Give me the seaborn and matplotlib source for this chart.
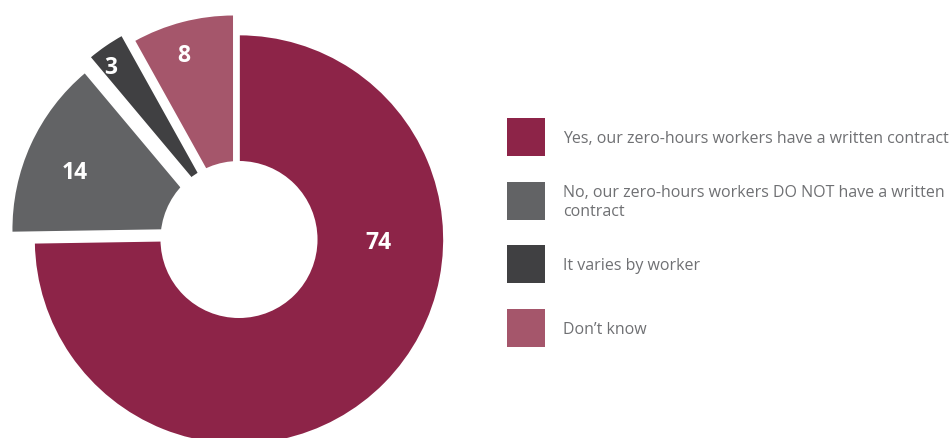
import numpy as np
import matplotlib
matplotlib.use("Agg")
import matplotlib.pyplot as plt
import seaborn as sns
from matplotlib.patches import Circle, Rectangle

# ---- data ----
categories = [
    "Yes, our zero-hours workers have a written contract",
    "No, our zero-hours workers DO NOT have a written\ncontract",
    "It varies by worker",
    "Don\u2019t know",
]
values = [74, 14, 3, 8]
value_labels = ["74", "14", "3", "8"]
colors = ["#8d2448", "#626365", "#404042", "#a5566b"]
explode = [0.0, 0.12, 0.15, 0.10]

sns.set_theme(style="white")
plt.rcParams["font.family"] = ["Open Sans", "DejaVu Sans"]

W, H, DPI = 953, 439, 100
fig = plt.figure(figsize=(W / DPI, H / DPI), dpi=DPI)
ax = fig.add_axes([0, 0, 1, 1])

wedges, _ = ax.pie(values, colors=colors, startangle=90, counterclock=False,
                   explode=explode, radius=1.0,
                   wedgeprops=dict(linewidth=1.2, edgecolor="white"))
# donut hole drawn over the original centre
ax.add_patch(Circle((0, 0), 0.383, facecolor="white", edgecolor="none", zorder=5))

# pie centre / radius in pixels -> data limits so 1 unit = R px
cx, cy, R = 239.0, 240.5, 205.0
ax.set_aspect("auto")
ax.set_xlim(-cx / R, (W - cx) / R)
ax.set_ylim((cy - H) / R, cy / R)
ax.set_axis_off()

# value labels: (radius, angle) relative to each wedge centre
label_place = [(0.68, -1.0), (0.745, 158.0), (0.90, 127.0), (0.84, 107.0)]
for w, lab, (r, th) in zip(wedges, value_labels, label_place):
    x0, y0 = w.center
    t = np.deg2rad(th)
    ax.text(x0 + r * np.cos(t), y0 + r * np.sin(t), lab, color="white",
            fontsize=16.5, fontweight="bold", ha="center", va="center", zorder=6)

# legend: squares + text, in figure pixels
sq_x, sq_size, txt_x = 507, 38, 563
row_y0, row_pitch = 138, 63.7
for i, (lab, col) in enumerate(zip(categories, colors)):
    yc = row_y0 + i * row_pitch
    fig.patches.append(Rectangle(((sq_x) / W, 1 - (yc + sq_size / 2) / H),
                                 sq_size / W, sq_size / H, facecolor=col,
                                 edgecolor="none", transform=fig.transFigure))
    fig.text(txt_x / W, 1 - (yc + 1) / H, lab, color="#6f7073", fontsize=11.5,
             ha="left", va="center", linespacing=1.25)

fig.savefig("out.png", dpi=DPI)
